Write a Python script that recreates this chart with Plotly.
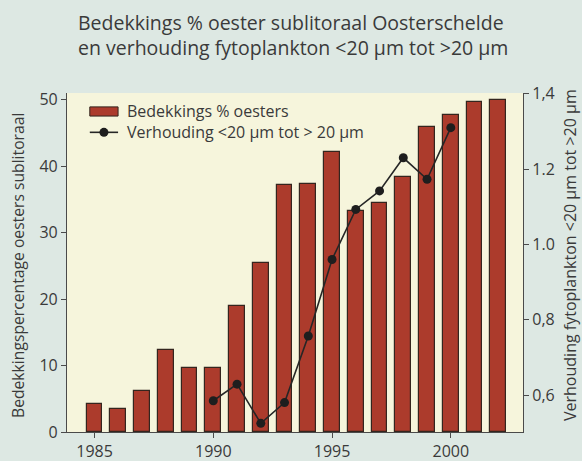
import plotly.graph_objects as go

years = list(range(1985, 2003))
oyster_cover = [4.2, 3.5, 6.1, 12.3, 9.6, 9.6, 18.9, 25.4, 37.2, 37.3,
                42.1, 33.3, 34.4, 38.4, 45.9, 47.7, 49.6, 50.0]

ratio_years = list(range(1990, 2001))
ratio = [0.585, 0.629, 0.525, 0.580, 0.757, 0.960, 1.093, 1.142, 1.230, 1.173, 1.310]

right_ticks = [0.6, 0.8, 1.0, 1.2, 1.4]
right_ticktext = ["0,6", "0,8", "1.0", "1.2", "1,4"]

FONT = "Open Sans"
TXT = "#3a3a3a"
BAR = "#ac3b2c"
AX = "#4a4a4a"

fig = go.Figure()

fig.add_trace(go.Bar(
    x=years, y=oyster_cover, width=0.66,
    marker_color=BAR, marker_line_color="#34251e", marker_line_width=1.2,
    name="Bedekkings % oesters", showlegend=False,
))

fig.add_trace(go.Scatter(
    x=ratio_years, y=ratio, yaxis="y2", mode="lines+markers",
    line=dict(color="#262626", width=1.6),
    marker=dict(color="#1e1e1e", size=9),
    name="Verhouding <20 µm tot > 20 µm", showlegend=False,
))

# hand-made legend (wide bar swatch like the original)
fig.add_shape(type="rect", xref="paper", yref="paper",
              x0=0.050, x1=0.112, y0=0.932, y1=0.959,
              fillcolor=BAR, line=dict(color="#34251e", width=1))
fig.add_shape(type="line", xref="paper", yref="paper",
              x0=0.050, x1=0.112, y0=0.884, y1=0.884,
              line=dict(color="#262626", width=1.6))
fig.add_shape(type="circle", xref="paper", yref="paper",
              x0=0.081 - 0.0099, x1=0.081 + 0.0099, y0=0.884 - 0.0133, y1=0.884 + 0.0133,
              fillcolor="#1e1e1e", line=dict(width=0))
fig.add_annotation(text="Bedekkings % oesters", xref="paper", yref="paper",
                   x=0.128, y=0.948, xanchor="left", yanchor="middle",
                   showarrow=False, font=dict(size=16, color=TXT, family=FONT))
fig.add_annotation(text="Verhouding <20 µm tot > 20 µm", xref="paper", yref="paper",
                   x=0.128, y=0.884, xanchor="left", yanchor="middle",
                   showarrow=False, font=dict(size=16, color=TXT, family=FONT))

# title lines
fig.add_annotation(text="Bedekkings % oester sublitoraal Oosterschelde",
                   xref="paper", yref="paper", x=(76 - 67) / 456, y=(432 - 23) / 339,
                   xanchor="left", yanchor="middle", showarrow=False,
                   font=dict(size=19.5, color=TXT, family=FONT))
fig.add_annotation(text="en verhouding fytoplankton <20 µm tot >20 µm",
                   xref="paper", yref="paper", x=(76 - 67) / 456, y=(432 - 47) / 339,
                   xanchor="left", yanchor="middle", showarrow=False,
                   font=dict(size=19.5, color=TXT, family=FONT))

# axis titles
fig.add_annotation(text="Bedekkingspercentage oesters sublitoraal",
                   xref="paper", yref="paper", x=(18 - 67) / 456, y=(432 - 266) / 339,
                   xanchor="center", yanchor="middle", textangle=-90, showarrow=False,
                   font=dict(size=15.7, color=TXT, family=FONT))
fig.add_annotation(text="Verhouding fytoplankton <20 µm tot >20 µm",
                   xref="paper", yref="paper", x=(570 - 67) / 456, y=(432 - 255) / 339,
                   xanchor="center", yanchor="middle", textangle=-90, showarrow=False,
                   font=dict(size=16, color=TXT, family=FONT))

fig.update_layout(
    width=582, height=461,
    margin=dict(l=67, r=59, t=93, b=29),
    paper_bgcolor="#dde8e3",
    plot_bgcolor="#f6f5dc",
    font=dict(family=FONT, size=16, color=TXT),
    bargap=0,
    xaxis=dict(
        range=[1983.84, 2003.04], tickvals=[1985, 1990, 1995, 2000],
        showgrid=False, zeroline=False, automargin=False,
        showline=True, linecolor=AX, linewidth=1.2,
        ticks="outside", ticklen=5, tickcolor=AX,
        tickfont=dict(size=16, color=TXT),
    ),
    yaxis=dict(
        range=[0, 51], tickvals=[0, 10, 20, 30, 40, 50],
        showgrid=False, zeroline=False, automargin=False,
        showline=True, linecolor=AX, linewidth=1.2,
        ticks="outside", ticklen=5, tickcolor=AX,
        tickfont=dict(size=16, color=TXT),
    ),
    yaxis2=dict(
        overlaying="y", side="right",
        range=[0.502, 1.402], tickvals=right_ticks, ticktext=right_ticktext,
        showgrid=False, zeroline=False, automargin=False,
        showline=True, linecolor=AX, linewidth=1.2,
        ticks="outside", ticklen=5, tickcolor=AX,
        tickfont=dict(size=16, color=TXT),
    ),
)

# the page body has a default 8px margin; remove it so the figure fills the window
fig.write_html("out.html", config={"displayModeBar": False},
               post_script="document.body.style.margin='0';")
